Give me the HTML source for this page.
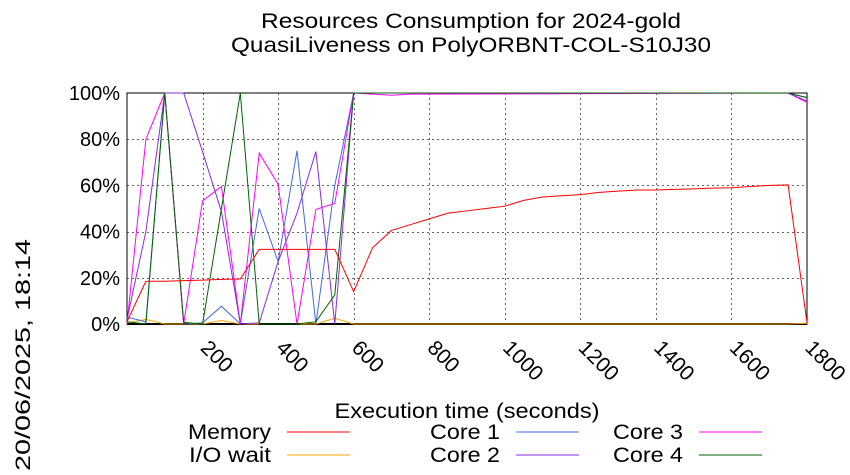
<!DOCTYPE html>
<html><head><meta charset="utf-8"><style>
html,body{margin:0;padding:0;background:#fff}
svg{display:block;font-family:"Liberation Sans",sans-serif}
</style></head><body>
<svg id="chart" width="850" height="475" viewBox="0 0 850 475" xmlns="http://www.w3.org/2000/svg">
<text x="471" y="28" font-size="21" text-anchor="middle" textLength="420" lengthAdjust="spacingAndGlyphs">Resources Consumption for 2024-gold</text>
<text x="471" y="52" font-size="21" text-anchor="middle" textLength="480" lengthAdjust="spacingAndGlyphs">QuasiLiveness on PolyORBNT-COL-S10J30</text>
<text transform="translate(30,355) rotate(-90)" font-size="21" text-anchor="middle" textLength="232" lengthAdjust="spacingAndGlyphs">20/06/2025, 18:14</text>
<text x="467" y="418" font-size="21" text-anchor="middle" textLength="265" lengthAdjust="spacingAndGlyphs">Execution time (seconds)</text>
<g id="grid"></g><g id="axes"></g><g id="series"></g><g id="legend"></g>
</svg>
<script>
const memT=[0,50,100,150,200,250,300,350,400,450,500,550,600,650,700,750,800,850,900,950,1000,1050,1100,1150,1200,1250,1300,1350,1400,1450,1500,1550,1600,1650,1700,1750,1800];
const memV=[1,18.5,18.5,18.8,19,19.3,19.5,32.3,32.3,32.3,32.3,32.3,14,33,40.5,43,45.5,48,49,50,51,53.5,55,55.5,56,57,57.5,58,58,58.3,58.5,58.8,59,59.5,60,60.2,0.5];
const coreT=[0,50,100,150,200,250,300,350,400,450,500,550,600,650,700,750,1750,1800];
const core1=[3,1,100,0,0.5,7.7,0,50,27,75,0,60,100,100,100,100,100,98];
const core2=[2,40,100,100,74.6,48.6,0,0.5,27,48,74.6,0,100,100,100,100,100,96.5];
const core3=[0,80,100,0,53.3,59.5,0,74,60.5,0,49.6,52.2,100,99.5,99,99.5,100,96];
const core4=[1,0,100,0.7,0,50,100,0,0,0,1,12.6,100,100,100,100,100,98];
const ioV=[0.5,2,0,0,0,1.5,0,0,0,0,0,2.5,0,0,0,0,0,0.3];
const xTicks=[200,400,600,800,1000,1200,1400,1600,1800];
const yTicks=[0,20,40,60,80,100];
const yLabels=["0%","20%","40%","60%","80%","100%"];
const X0=127,X1=807,Y0=324,Y1=93;
const xs=t=>X0+(X1-X0)*t/1800, ys=v=>Y0-(Y0-Y1)*v/100;
const NS="http://www.w3.org/2000/svg";
function mk(p,tag,attrs){const e=document.createElementNS(NS,tag);for(const k in attrs)e.setAttribute(k,attrs[k]);document.getElementById(p).appendChild(e);return e;}
yTicks.forEach((v,i)=>{
 const y=Math.round(ys(v))+0.5;
 if(v>0&&v<100){const g=mk('grid','line',{x1:X0,x2:X1,y1:y,y2:y,stroke:'#666','stroke-width':1,'stroke-dasharray':'2,3','shape-rendering':'crispEdges'});
 
 }
 const t=mk('axes','text',{x:X0-7,y:ys(v)+7,'font-size':20,'text-anchor':'end'});t.textContent=yLabels[i];
 
 
});
xTicks.forEach(v=>{
 const x=Math.round(xs(v))+0.5;
 if(v<1800){const g=mk('grid','line',{x1:x,x2:x,y1:Y1,y2:Y0,stroke:'#666','stroke-width':1,'stroke-dasharray':'2,3','shape-rendering':'crispEdges'});
 
 }
 const t=mk('axes','text',{transform:`translate(${xs(v)-3},${Y0+25}) rotate(45)`,'font-size':21});t.textContent=v;
 
 
});
const fr=mk('axes','rect',{x:X0,y:Y1,width:X1-X0,height:Y0-Y1,fill:'none',stroke:'#000','stroke-width':1});


const bl=mk('axes','line',{x1:X0,x2:X1,y1:Y0,y2:Y0,stroke:'#000','stroke-width':2});


function series(name,T,V,color){
 const p=mk('series','polyline',{points:T.map((t,i)=>xs(t)+','+ys(V[i])).join(' '),fill:'none',stroke:color,'stroke-width':1});
 
 
}
series('io-wait-line',coreT,ioV,'#ffa500');
series('core1-line',coreT,core1,'#4169e1');
series('core3-line',coreT,core3,'#ff00ff');
series('core2-line',coreT,core2,'#8a2be2');
series('core4-line',coreT,core4,'#006400');
series('memory-line',memT,memV,'#ff0000');
const leg=[['Memory',271,439,83,'#ff0000'],['I/O wait',271,462,82,'#ffa500'],['Core 1',500,439,70,'#4169e1'],['Core 2',500,462,70,'#8a2be2'],['Core 3',683,439,70,'#ff00ff'],['Core 4',683,462,70,'#006400']];
leg.forEach(l=>{
 const t=mk('legend','text',{x:l[1],y:l[2],'font-size':21,'text-anchor':'end',textLength:l[3],lengthAdjust:'spacingAndGlyphs'});t.textContent=l[0];
 
 
 const s=mk('legend','line',{x1:l[1]+16,x2:l[1]+79,y1:l[2]-7,y2:l[2]-7,stroke:l[4]});
 
 
});
</script>
</body></html>
